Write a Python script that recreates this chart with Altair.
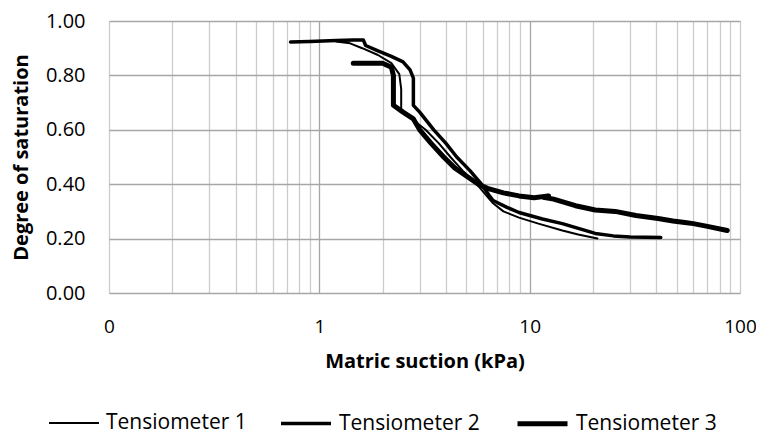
import altair as alt
import pandas as pd

series_names = ["Tensiometer 1", "Tensiometer 2", "Tensiometer 3"]

t1_x = [1.2, 1.4, 1.6, 1.9, 2.2, 2.4, 2.45, 2.45, 2.7, 3.2, 3.7, 4.2, 4.8, 5.6, 6.2, 6.7, 7.5, 8.9, 11, 14.3, 17, 21]
t1_y = [0.925, 0.918, 0.90, 0.875, 0.845, 0.805, 0.75, 0.67, 0.645, 0.60, 0.55, 0.50, 0.45, 0.40, 0.36, 0.33, 0.30, 0.277, 0.255, 0.23, 0.215, 0.20]

t2_x = [0.73, 0.9, 1.2, 1.45, 1.62, 1.66, 1.9, 2.2, 2.5, 2.7, 2.8, 2.8, 3.0, 3.5, 4.0, 4.5, 5.2, 5.9, 6.4, 6.7, 7.8, 8.9, 11.5, 14.3, 20.5, 25, 30, 36, 42]
t2_y = [0.923, 0.925, 0.928, 0.93, 0.93, 0.91, 0.89, 0.87, 0.85, 0.82, 0.79, 0.69, 0.665, 0.60, 0.55, 0.50, 0.45, 0.40, 0.36, 0.34, 0.315, 0.296, 0.272, 0.255, 0.219, 0.21, 0.206, 0.205, 0.204]

t3_x = [1.45, 2.0, 2.2, 2.25, 2.25, 2.5, 2.8, 3.0, 3.4, 3.9, 4.4, 5.0, 5.7, 6.3, 7.5, 8.9, 10.5, 12.3, 11.6, 13, 16.5, 20.5, 25.5, 32, 40.8, 48, 54.7, 60, 70, 87]
t3_y = [0.845, 0.845, 0.83, 0.80, 0.69, 0.665, 0.64, 0.60, 0.55, 0.50, 0.46, 0.43, 0.40, 0.385, 0.368, 0.357, 0.35, 0.357, 0.352, 0.345, 0.321, 0.305, 0.30, 0.285, 0.274, 0.265, 0.259, 0.255, 0.245, 0.23]

x_grid_values = [0.1, 0.2, 0.3, 0.4, 0.5, 0.6, 0.7, 0.8, 0.9,
                 1, 2, 3, 4, 5, 6, 7, 8, 9,
                 10, 20, 30, 40, 50, 60, 70, 80, 90, 100]
y_tick_values = [0, 0.2, 0.4, 0.6, 0.8, 1.0]

rows = []
for name, xs, ys in zip(series_names, [t1_x, t2_x, t3_x], [t1_y, t2_y, t3_y]):
    for i, (xv, yv) in enumerate(zip(xs, ys)):
        rows.append({"series": name, "suction": xv, "saturation": yv, "idx": i})
df = pd.DataFrame(rows)

FONT = "Open Sans"

x_axis = alt.Axis(
    values=x_grid_values,
    labelExpr="datum.value < 0.15 ? '0' : ((datum.value == 1 || datum.value == 10 || datum.value == 100) ? format(datum.value, 'd') : '')",
    ticks=False,
    domain=False,
    gridColor={"condition": {"test": "datum.value == 1 || datum.value == 10", "value": "#a6a6a6"}, "value": "#cccccc"},
    gridWidth=1.3,
    labelFont=FONT,
    labelFontSize=19,
    labelColor="#000000",
    labelPadding=24,
    labelFlush=False,
    labelOverlap=False,
    title="Matric suction (kPa)",
    titleFont=FONT,
    titleFontSize=20,
    titleFontWeight="bold",
    titleColor="#000000",
    titlePadding=15,
)

y_axis = alt.Axis(
    values=y_tick_values,
    format=".2f",
    ticks=False,
    domain=False,
    gridColor="#a6a6a6",
    gridWidth=1.3,
    labelFont=FONT,
    labelFontSize=20,
    labelColor="#000000",
    labelPadding=24,
    title="Degree of saturation",
    titleFont=FONT,
    titleFontSize=20,
    titleFontWeight="bold",
    titleColor="#000000",
    titlePadding=14,
)

chart = alt.Chart(df).mark_line(
    color="black", strokeCap="round", strokeJoin="round"
).encode(
    x=alt.X("suction:Q", scale=alt.Scale(type="log", domain=[0.1, 100], nice=False), axis=x_axis),
    y=alt.Y("saturation:Q", scale=alt.Scale(domain=[0, 1], nice=False), axis=y_axis),
    strokeWidth=alt.StrokeWidth(
        "series:N",
        scale=alt.Scale(domain=series_names, range=[2, 5, 6.5]),
        legend=alt.Legend(
            title=None,
            orient="none",
            legendX=-61,
            legendY=375,
            direction="horizontal",
            symbolType="stroke",
            symbolStrokeColor="black",
            symbolSize=2500,
            labelFont=FONT,
            labelFontSize=21,
            labelColor="#000000",
            labelOffset=6,
            columnPadding=27,
        ),
    ),
    order="idx:Q",
).properties(
    width=631,
    height=272,
    padding={"left": 101, "top": 13, "right": 16, "bottom": 143},
    autosize=alt.AutoSizeParams(type="none"),
).configure_view(stroke="transparent")

chart.save("out.html", embed_options={"renderer": "svg", "actions": False})
